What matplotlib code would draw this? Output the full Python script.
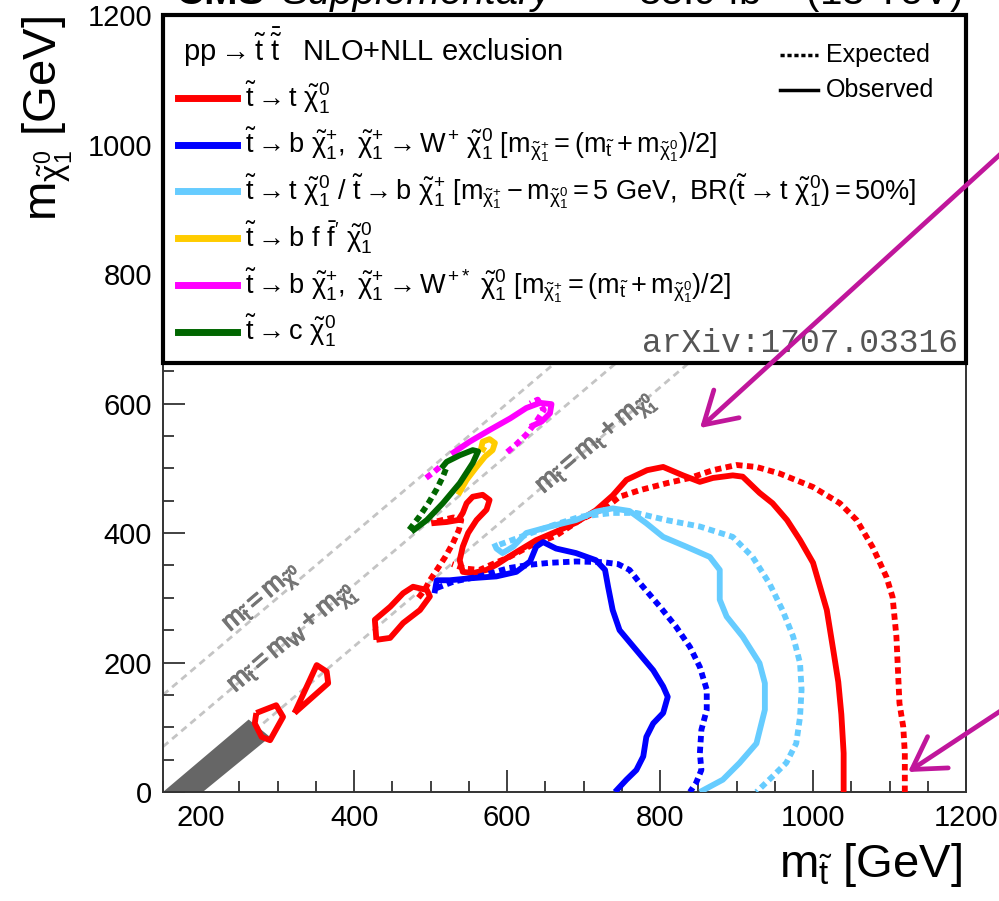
import matplotlib
matplotlib.use('Agg')
import matplotlib.pyplot as plt
import matplotlib.patheffects as pe
import numpy as np
from matplotlib.patches import Rectangle, FancyArrowPatch
from matplotlib.lines import Line2D

# contour points, (m_stop, m_lsp) in GeV
red_obs_x = [1040, 1040, 1037, 1033, 1027, 1018, 1000, 983, 966, 947, 930, 908, 895, 869, 852, 830, 804, 783, 756, 738, 716, 690, 664, 638, 617, 599, 586, 573, 555, 542, 538, 542, 549, 560, 573, 577, 568, 555, 547, 542, 536, 521, 501]
red_obs_y = [0, 60, 120, 170, 215, 281, 354, 389, 420, 446, 462, 487, 489, 485, 479, 489, 502, 497, 482, 458, 435, 416, 402, 389, 374, 361, 351, 343, 338, 340, 358, 379, 400, 420, 436, 451, 459, 456, 446, 431, 420, 417, 415]
red_exp_x = [1120, 1120, 1118, 1113, 1109, 1104, 1096, 1078, 1057, 1035, 1000, 956, 926, 900, 869, 839, 809, 773, 747, 730, 695, 664, 630, 603, 581, 564, 545, 528]
red_exp_y = [0, 60, 100, 137, 240, 301, 332, 378, 420, 446, 471, 492, 502, 505, 497, 485, 477, 466, 456, 440, 420, 396, 380, 363, 352, 343, 345, 352]
red_exp2_x = [484, 492, 499, 508, 519, 529, 537, 540, 530, 515, 501]
red_exp2_y = [300, 312, 327, 343, 363, 384, 405, 420, 424, 420, 416]
red_isl1_x = [429, 427, 447, 464, 477, 495, 499, 486, 464, 447, 429]
red_isl1_y = [235, 266, 286, 307, 317, 312, 302, 281, 261, 238, 235]
red_isl2_x = [322, 351, 364, 366, 322]
red_isl2_y = [122, 196, 186, 168, 122]
red_isl3_x = [272, 298, 307, 290, 279, 270, 272]
red_isl3_y = [122, 134, 116, 80, 85, 106, 122]

blue_obs_x = [505, 508, 525, 551, 586, 612, 630, 638, 647, 664, 690, 716, 728, 732, 738, 747, 769, 791, 804, 810, 804, 791, 782, 778, 769, 756, 741]
blue_obs_y = [307, 327, 327, 330, 333, 340, 356, 379, 386, 376, 369, 358, 343, 317, 281, 250, 219, 188, 163, 147, 122, 106, 85, 55, 34, 19, 0]
blue_exp_x = [508, 530, 564, 603, 630, 656, 690, 725, 745, 760, 774, 800, 821, 839, 852, 861, 861, 854, 852, 854, 847, 839]
blue_exp_y = [315, 325, 333, 346, 351, 354, 356, 355, 352, 343, 322, 286, 255, 224, 193, 158, 127, 96, 60, 34, 14, 0]

lblue_obs_x = [583, 586, 594, 608, 625, 656, 690, 716, 738, 760, 782, 804, 834, 865, 878, 878, 887, 908, 930, 937, 937, 926, 904, 882, 852]
lblue_obs_y = [384, 376, 369, 379, 400, 410, 420, 433, 438, 434, 415, 394, 379, 363, 343, 297, 271, 240, 199, 168, 127, 75, 45, 19, 0]
lblue_exp_x = [590, 620, 660, 695, 738, 769, 808, 852, 895, 921, 943, 960, 974, 983, 985, 983, 978, 965, 947, 926]
lblue_exp_y = [382, 395, 412, 425, 431, 431, 420, 410, 394, 363, 322, 281, 240, 199, 158, 116, 75, 45, 24, 0]

mag_obs_x = [527, 551, 577, 604, 625, 643, 658, 656, 645, 630]
mag_obs_y = [522, 541, 559, 577, 593, 601, 599, 585, 572, 564]
mag_exp1_x = [494, 505, 515]
mag_exp1_y = [485, 495, 505]
mag_exp2_x = [600, 612, 625, 638, 648, 640, 630]
mag_exp2_y = [525, 537, 552, 572, 590, 606, 600]

yel_obs_x = [536, 547, 560, 571, 581, 584, 577, 568, 566, 572]
yel_obs_y = [459, 482, 502, 518, 528, 539, 545, 541, 531, 527]

grn_obs_x = [475, 495, 516, 538, 555, 562, 555, 538, 521, 514]
grn_obs_y = [402, 420, 446, 477, 508, 526, 528, 520, 510, 500]
grn_exp_x = [472, 485, 497, 508, 516, 521]
grn_exp_y = [405, 425, 446, 468, 487, 502]

# unexcluded corridor near m_stop - m_lsp = m_top
band_x = [150, 202, 290, 262, 150]
band_y = [0, 0, 85, 112, 0]

m_w = 80
m_top = 175

legend_colors = ['#ff0000', '#0000ff', '#66ccff', '#ffcc00', '#ff00ff', '#006600']
legend_labels = [
    r'$\tilde{t}\rightarrow t\ \tilde{\chi}^{0}_{1}$',
    r'$\tilde{t}\rightarrow b\ \tilde{\chi}^{+}_{1},\ \tilde{\chi}^{+}_{1}\rightarrow W^{+}\ \tilde{\chi}^{0}_{1}\ [m_{\tilde{\chi}^{+}_{1}} = (m_{\tilde{t}} + m_{\tilde{\chi}^{0}_{1}})/2]$',
    r'$\tilde{t}\rightarrow t\ \tilde{\chi}^{0}_{1}\ /\ \tilde{t}\rightarrow b\ \tilde{\chi}^{+}_{1}\ [m_{\tilde{\chi}^{+}_{1}} - m_{\tilde{\chi}^{0}_{1}} = 5\ GeV,\ BR(\tilde{t}\rightarrow t\ \tilde{\chi}^{0}_{1}) = 50\%]$',
    r"$\tilde{t}\rightarrow b\ f\ \bar{f}'\ \tilde{\chi}^{0}_{1}$",
    r'$\tilde{t}\rightarrow b\ \tilde{\chi}^{+}_{1},\ \tilde{\chi}^{+}_{1}\rightarrow W^{+*}\ \tilde{\chi}^{0}_{1}\ [m_{\tilde{\chi}^{+}_{1}} = (m_{\tilde{t}} + m_{\tilde{\chi}^{0}_{1}})/2]$',
    r'$\tilde{t}\rightarrow c\ \tilde{\chi}^{0}_{1}$',
]

plt.rcParams['font.family'] = ['Liberation Sans', 'DejaVu Sans']
plt.rcParams['mathtext.fontset'] = 'custom'
plt.rcParams['mathtext.rm'] = 'Liberation Sans'
plt.rcParams['mathtext.it'] = 'Liberation Sans'
plt.rcParams['mathtext.bf'] = 'Liberation Sans:bold'
plt.rcParams['mathtext.sf'] = 'Liberation Sans'

W, H = 999, 901
def fx(px):
    return px / W
def fy(py):
    return 1 - py / H

fig = plt.figure(figsize=(9.99, 9.01), dpi=100)
ax = fig.add_axes([fx(163), fy(792), (966 - 163) / W, (792 - 15) / H])
ax.set_xlim(150, 1200)
ax.set_ylim(0, 1200)

ax.set_xticks(np.arange(200, 1201, 200))
ax.set_yticks(np.arange(0, 1201, 200))
ax.set_xticks(np.arange(150, 1201, 50), minor=True)
ax.set_yticks(np.arange(0, 1201, 50), minor=True)
ax.tick_params(which='both', direction='in', top=False, right=False, color='#333333', width=1.3)
ax.tick_params(which='major', length=16, labelsize=21, pad=8)
ax.tick_params(which='minor', length=8)
ax.tick_params(axis='x', pad=9)
for s in ax.spines.values():
    s.set_linewidth(1.4)
    s.set_color('#333333')

# kinematic boundaries
xl = np.array([150, 1200])
dash = dict(color='#c4c4c4', lw=2, dashes=(2.5, 1.8), zorder=1)
ax.plot(xl, xl, **dash)
ax.plot(xl, xl - m_w, **dash)
ax.plot(xl, xl - m_top, **dash)

ang = np.degrees(np.arctan((1050 / 803) / (1200 / 777)))
gtxt = dict(color='#747474', fontsize=19, rotation=ang, rotation_mode='anchor', ha='center', va='center', zorder=2,
            path_effects=[pe.withStroke(linewidth=0.9, foreground='#747474')])
ax.text(281, 297, r'$m_{\tilde{t}} = m_{\tilde{\chi}^{0}}$', **gtxt)
ax.text(320, 235, r'$m_{\tilde{t}} = m_{W} + m_{\tilde{\chi}^{0}_{1}}$', **gtxt)
ax.text(717, 536, r'$m_{\tilde{t}} = m_{t} + m_{\tilde{\chi}^{0}_{1}}$', **gtxt)

ax.fill(band_x, band_y, color='#666666', lw=0, zorder=2)

LW = 4.2
dot = (0, (1.1, 0.75))
def solid(x, y, c):
    ax.plot(x, y, color=c, lw=LW, solid_joinstyle='round', solid_capstyle='butt', zorder=3)
def dotted(x, y, c):
    ax.plot(x, y, color=c, lw=LW, linestyle=dot, dash_capstyle='butt', zorder=3)

dotted(red_exp_x, red_exp_y, '#ff0000')
dotted(red_exp2_x, red_exp2_y, '#ff0000')
solid(red_obs_x, red_obs_y, '#ff0000')
solid(red_isl1_x, red_isl1_y, '#ff0000')
solid(red_isl2_x, red_isl2_y, '#ff0000')
solid(red_isl3_x, red_isl3_y, '#ff0000')
dotted(blue_exp_x, blue_exp_y, '#0000ff')
solid(blue_obs_x, blue_obs_y, '#0000ff')
dotted(lblue_exp_x, lblue_exp_y, '#66ccff')
solid(lblue_obs_x, lblue_obs_y, '#66ccff')
dotted(mag_exp1_x, mag_exp1_y, '#ff00ff')
dotted(mag_exp2_x, mag_exp2_y, '#ff00ff')
solid(mag_obs_x, mag_obs_y, '#ff00ff')
solid(yel_obs_x, yel_obs_y, '#ffcc00')
dotted(grn_exp_x, grn_exp_y, '#006600')
solid(grn_obs_x, grn_obs_y, '#006600')

# legend box on top of the frame
box = Rectangle((fx(163), fy(363)), (966 - 163) / W, (363 - 15) / H, transform=fig.transFigure,
                facecolor='white', edgecolor='black', lw=3, zorder=1)
fig.add_artist(box)

fig.text(fx(183), fy(61), r'$pp\rightarrow\tilde{t}\ \bar{\tilde{t}}$   NLO+NLL exclusion', fontsize=21, va='baseline', zorder=3)
for i, (lab, c) in enumerate(zip(legend_labels, legend_colors)):
    yy = 98 + i * 46.7
    fig.add_artist(Line2D([fx(178), fx(237)], [fy(yy), fy(yy)], transform=fig.transFigure, color=c, lw=5, zorder=2))
    fig.text(fx(245), fy(yy + 8), lab, fontsize=19.5, va='baseline', zorder=3)

fig.add_artist(Line2D([fx(780), fx(818)], [fy(55), fy(55)], transform=fig.transFigure, color='black', lw=2.5, linestyle=(0, (1.2, 0.8)), zorder=2))
fig.add_artist(Line2D([fx(780), fx(818)], [fy(90), fy(90)], transform=fig.transFigure, color='black', lw=2.5, zorder=2))
fig.text(fx(826), fy(62), 'Expected', fontsize=18, va='baseline', zorder=3)
fig.text(fx(826), fy(97), 'Observed', fontsize=18, va='baseline', zorder=3)
fig.text(fx(958), fy(352), 'arXiv:1707.03316', fontsize=23.7, family='Liberation Mono', color='#555555', ha='right', va='baseline', zorder=3)

# axis titles
fig.text(fx(48), fy(16), r'm$_{\tilde{\chi}^{0}_{1}}$ [GeV]', fontsize=34, rotation=90, ha='center', va='top')
fig.text(fx(962), fy(877), r'm$_{\tilde{t}}$ [GeV]', fontsize=34, ha='right', va='baseline')

# header, mostly above the canvas
fig.text(fx(175), fy(4), 'CMS', fontsize=29, fontweight='bold', va='baseline')
fig.text(fx(282), fy(4), 'Supplementary', fontsize=29, style='italic', va='baseline')
fig.text(fx(962), fy(4), r'35.9 fb$^{-1}$ (13 TeV)', fontsize=29, ha='right', va='baseline')

# highlight arrows
for tail, tip in [((1005, 150), (700, 428)), ((1005, 708), (908, 772))]:
    arr = FancyArrowPatch((fx(tail[0]), fy(tail[1])), (fx(tip[0]), fy(tip[1])), transform=fig.transFigure,
                          arrowstyle='->,head_length=0.75,head_width=0.45', mutation_scale=30,
                          color='#c0169b', lw=3.4, shrinkA=0, shrinkB=0, capstyle='round', zorder=5)
    fig.add_artist(arr)

fig.savefig('out.png', dpi=100)
